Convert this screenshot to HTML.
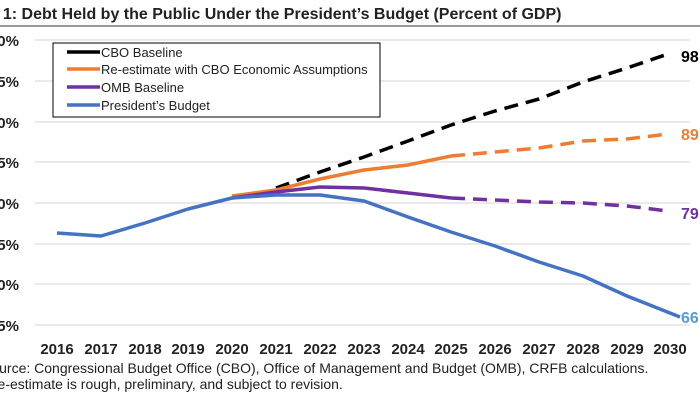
<!DOCTYPE html>
<html><head><style>
body{margin:0;width:700px;height:400px;overflow:hidden;background:#fff;font-family:"Liberation Sans",Arial,sans-serif}
</style></head><body>
<svg width="700" height="400" xmlns="http://www.w3.org/2000/svg" font-family="Liberation Sans, Arial, sans-serif">
<text x="-30" y="19" font-size="16" font-weight="bold" fill="#222">Fig. 1: Debt Held by the Public Under the President’s Budget (Percent of GDP)</text>
<line x1="0" y1="26" x2="700" y2="26" stroke="#333" stroke-width="1"/>
<g stroke="#d4d4d4" stroke-width="1">
<line x1="35" y1="40" x2="690" y2="40"/><line x1="35" y1="81" x2="690" y2="81"/>
<line x1="35" y1="122" x2="690" y2="122"/><line x1="35" y1="162" x2="690" y2="162"/>
<line x1="35" y1="203" x2="690" y2="203"/><line x1="35" y1="244" x2="690" y2="244"/>
<line x1="35" y1="284" x2="690" y2="284"/><line x1="35" y1="325" x2="690" y2="325"/>
</g>
<g font-size="15" font-weight="bold" fill="#222" text-anchor="end">
<text x="19" y="46">00%</text><text x="19" y="87">95%</text><text x="19" y="128">90%</text>
<text x="19" y="168">85%</text><text x="19" y="209">80%</text><text x="19" y="250">75%</text>
<text x="19" y="290">70%</text><text x="19" y="331">65%</text>
</g>
<g font-size="15" font-weight="bold" fill="#222" text-anchor="middle">
<text x="57" y="354">2016</text><text x="101" y="354">2017</text><text x="145" y="354">2018</text>
<text x="188" y="354">2019</text><text x="232" y="354">2020</text><text x="276" y="354">2021</text>
<text x="320" y="354">2022</text><text x="364" y="354">2023</text><text x="408" y="354">2024</text>
<text x="451" y="354">2025</text><text x="495" y="354">2026</text><text x="539" y="354">2027</text>
<text x="583" y="354">2028</text><text x="627" y="354">2029</text><text x="670" y="354">2030</text>
</g>
<g fill="none" stroke-width="3.5" stroke-linejoin="round">
<polyline stroke="#000" stroke-dasharray="14,8" points="276,188 320,172 364,157 408,141 451,125 495,111 539,99 583,82 627,68 668,54"/>
<polyline stroke="#ed7d31" points="232,196 276,190 320,179 364,170 408,165 451,156"/>
<polyline stroke="#ed7d31" stroke-dasharray="14,8" points="451,156 495,152 539,148 583,141 627,139 668,134"/>
<polyline stroke="#7030a0" points="232,198 276,192 320,187 364,188 408,193 451,198"/>
<polyline stroke="#7030a0" stroke-dasharray="14,8" points="451,198 495,200 539,202 583,203 627,206 668,211"/>
<polyline stroke="#4472c4" points="57,233 101,236 145,223 188,209 232,198 276,195 320,195 364,201 408,217 451,232 495,246 539,262 583,276 627,296 680,317"/>
</g>
<g font-size="16" font-weight="bold">
<text x="681" y="62" fill="#000">98</text><text x="681" y="140" fill="#ed7d31">89</text>
<text x="681" y="219" fill="#7030a0">79</text><text x="681" y="323" fill="#5b9bd5">66</text>
</g>
<rect x="53" y="43" width="327" height="74" fill="#fff" stroke="#000" stroke-width="1"/>
<g stroke-width="3.5">
<line x1="67" y1="52" x2="100" y2="52" stroke="#000"/>
<line x1="67" y1="69" x2="100" y2="69" stroke="#ed7d31"/>
<line x1="67" y1="87" x2="100" y2="87" stroke="#7030a0"/>
<line x1="67" y1="105" x2="100" y2="105" stroke="#4472c4"/>
</g>
<g font-size="13" fill="#222">
<text x="101" y="57">CBO Baseline</text>
<text x="101" y="74">Re-estimate with CBO Economic Assumptions</text>
<text x="101" y="92">OMB Baseline</text>
<text x="101" y="110">President’s Budget</text>
</g>
<g font-size="14" fill="#222">
<text x="-18" y="373">Source: Congressional Budget Office (CBO), Office of Management and Budget (OMB), CRFB calculations.</text>
<text x="-18" y="389">*Re-estimate is rough, preliminary, and subject to revision.</text>
</g>
</svg>
</body></html>
